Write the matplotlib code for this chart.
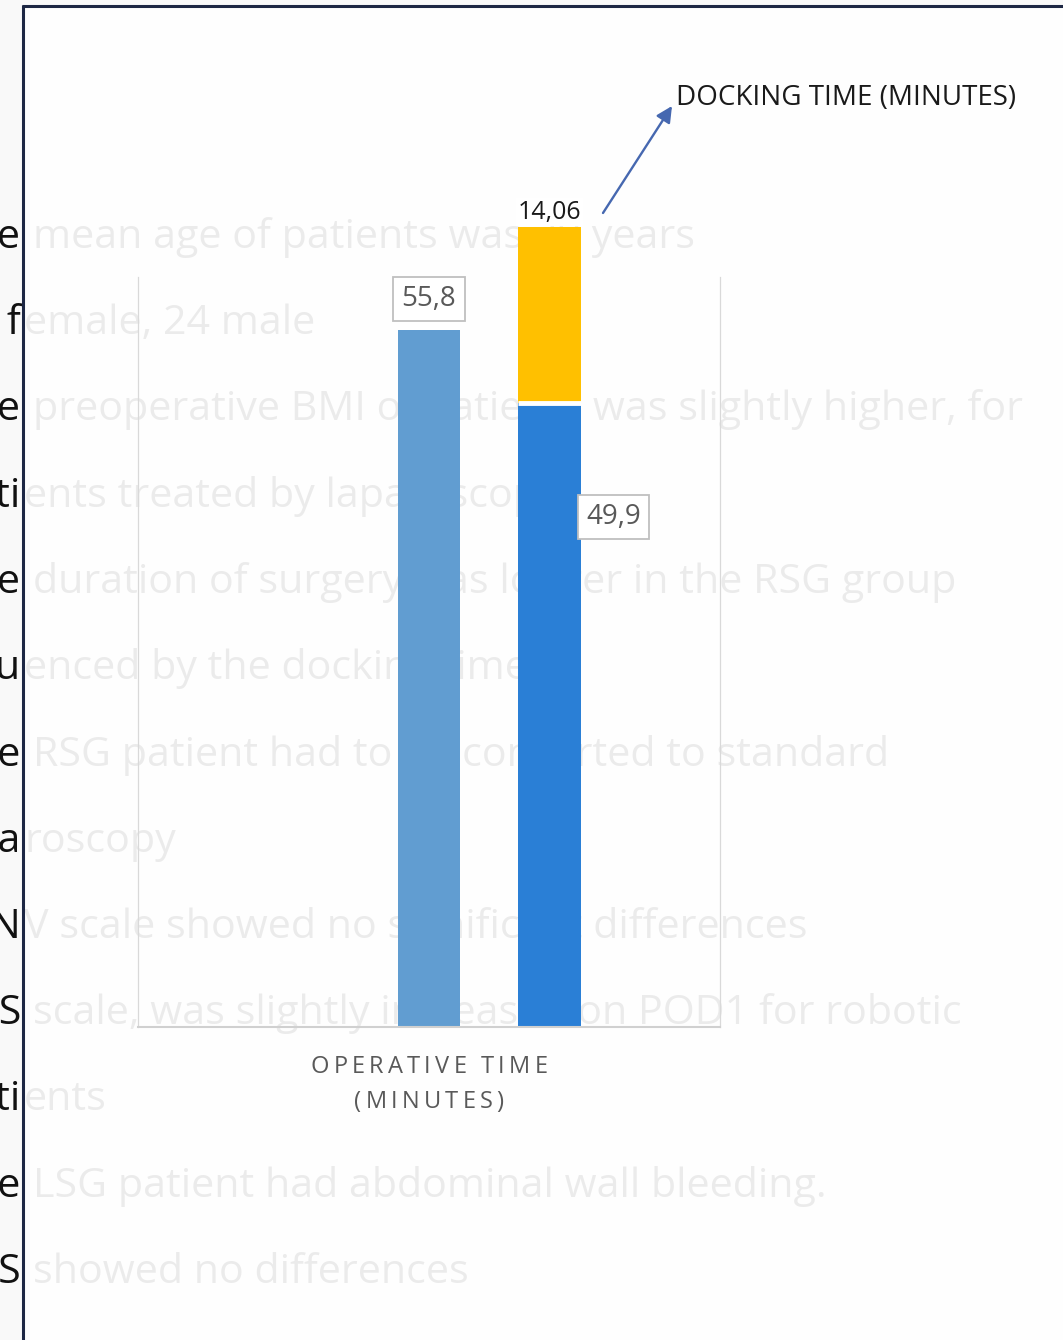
import matplotlib
matplotlib.use("Agg")
import matplotlib.pyplot as plt
from matplotlib.font_manager import FontProperties
from matplotlib.patches import Rectangle

# chart values
categories = ["OPERATIVE TIME", "(MINUTES)"]
lsg_operative = [55.8]
rsg_operative = [49.9]
rsg_docking = [14.06]
lsg_labels = ["55,8"]
rsg_labels = ["49,9"]
docking_labels = ["14,06"]
docking_title = "DOCKING TIME (MINUTES)"

# slide text behind the chart: black part left of the frame, faded part after it
slide_heads = ["The", "36 f", "The", "pati", "The", "influ", "One",
               "lapa", "PON", "VAS", "pati", "One", "BAROS"]
slide_tails = [" mean age of patients was 39 years",
               "emale, 24 male",
               " preoperative BMI of patients was slightly higher, for",
               "ents treated by laparoscopy",
               " duration of surgery was longer in the RSG group",
               "enced by the docking time",
               " RSG patient had to be converted to standard",
               "roscopy",
               "V scale showed no significant differences",
               " scale, was slightly increased on POD1 for robotic",
               "ents",
               " LSG patient had abdominal wall bleeding.",
               " showed no differences"]

W, H, DPI = 1063, 1340, 100
FONT = "Open Sans"
plt.rcParams["font.family"] = [FONT, "DejaVu Sans"]

fig = plt.figure(figsize=(W / DPI, H / DPI), dpi=DPI)
fig.patch.set_facecolor("#f9f9f9")
renderer = fig.canvas.get_renderer()

# full-figure axes in pixel units for the slide background
bg = fig.add_axes([0, 0, 1, 1], zorder=0)
bg.set_xlim(0, W)
bg.set_ylim(H, 0)
bg.axis("off")


def text_width(s, prop):
    return renderer.get_text_width_height_descent(s, prop, ismath=False)[0]


slide_prop = FontProperties(family=FONT, size=29.7)
space_w = text_width("I I", slide_prop) - text_width("II", slide_prop)
frame_x = 21
baseline0, line_step = 248, 86.25
for i, (head, tail) in enumerate(zip(slide_heads, slide_tails)):
    y = baseline0 + i * line_step
    bg.text(frame_x, y, head, fontproperties=slide_prop, color="#111111",
            ha="right", va="baseline", zorder=1)
    gap = space_w + 1 if tail.startswith(" ") else 3
    bg.text(frame_x + gap, y, tail.strip(), fontproperties=slide_prop,
            color="#111111", ha="left", va="baseline", zorder=1)

# semi-transparent white chart area over the slide text
bg.add_patch(Rectangle((23, 6), W - 23, H - 6, facecolor="white",
                       edgecolor="none", alpha=0.92, zorder=2))
bg.plot([23, 23], [5, H], color="#1d2744", lw=2.2, zorder=3, solid_capstyle="butt")
bg.plot([22, W], [6, 6], color="#1d2744", lw=2.2, zorder=3, solid_capstyle="butt")


def spaced_text(axis, text, x_center, y_base, prop, color, spacing):
    widths = []
    for ch in text:
        if ch == " ":
            widths.append(text_width("I I", prop) - text_width("II", prop))
        else:
            widths.append(text_width(ch, prop))
    total = sum(widths) + spacing * (len(text) - 1)
    x = x_center - total / 2
    for ch, w in zip(text, widths):
        if ch != " ":
            axis.text(x, y_base, ch, fontproperties=prop, color=color,
                      ha="left", va="baseline", zorder=4)
        x += w + spacing


cat_prop = FontProperties(family=FONT, size=17)
spaced_text(bg, categories[0], 429, 1073, cat_prop, "#595959", 4.2)
spaced_text(bg, categories[1], 429, 1108, cat_prop, "#595959", 4.2)

# docking time callout
bg.text(676, 98, docking_title, fontsize=20, color="#1a1a1a",
        ha="left", va="center", zorder=4)
bg.annotate("", xy=(672, 106), xytext=(603, 213),
            arrowprops=dict(arrowstyle="-|>", color="#4668b0", lw=1.7,
                            mutation_scale=24, shrinkA=0, shrinkB=0),
            zorder=4)

# the chart itself
ax = fig.add_axes([138 / W, 1 - 1027 / H, 582 / W, 750 / H], zorder=3)
ax.set_facecolor("none")
ax.set_xlim(-0.5, 0.5)
ax.set_ylim(0, 60)
ax.set_xticks([])
ax.set_yticks([])
ax.spines["top"].set_visible(False)
for side in ["left", "right"]:
    ax.spines[side].set_color("#d9d9d9")
    ax.spines[side].set_linewidth(0.9)
ax.spines["bottom"].set_color("#d0d0d0")
ax.spines["bottom"].set_linewidth(1.5)

bar_w = 0.108
x_lsg = 0.0
x_rsg = 0.207

ax.bar([x_lsg], lsg_operative, width=bar_w, color="#619dd1", zorder=2)
ax.bar([x_rsg], rsg_operative, width=bar_w, color="#2a7fd6", zorder=2)
ax.bar([x_rsg], rsg_docking, bottom=rsg_operative, width=bar_w,
       color="#ffc000", zorder=2, clip_on=False)
ax.plot([x_rsg - bar_w / 2, x_rsg + bar_w / 2], [rsg_operative[0]] * 2,
        color="white", lw=3.5, zorder=3, solid_capstyle="butt", clip_on=False)

box = dict(boxstyle="square,pad=0.3", facecolor="white",
           edgecolor="#bfbfbf", linewidth=1.3)
ax.annotate(lsg_labels[0], xy=(x_lsg, lsg_operative[0]), xytext=(0, 22),
            textcoords="offset points", ha="center", va="center",
            fontsize=20, color="#595959", bbox=box, zorder=5,
            annotation_clip=False)
ax.annotate(rsg_labels[0], xy=(x_rsg, rsg_operative[0]), xytext=(46, -82),
            textcoords="offset points", ha="center", va="center",
            fontsize=20, color="#595959", bbox=box, zorder=5,
            annotation_clip=False)
ax.annotate(docking_labels[0], xy=(x_rsg, rsg_operative[0] + rsg_docking[0]),
            xytext=(0, 11), textcoords="offset points", ha="center",
            va="center", fontsize=18, color="#1a1a1a", zorder=5,
            bbox=dict(boxstyle="square,pad=0.05", facecolor="white",
                      edgecolor="none"),
            annotation_clip=False)

fig.savefig("out.png", dpi=DPI)
